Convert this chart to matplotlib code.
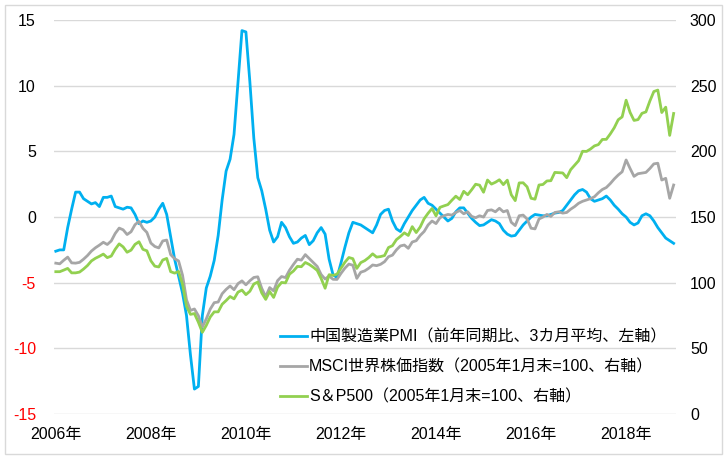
import numpy as np
import matplotlib
matplotlib.use("Agg")
import matplotlib.pyplot as plt
from matplotlib.patches import Rectangle

plt.rcParams['font.family'] = ['Liberation Sans', 'Noto Sans CJK JP']

# monthly data, Jan 2006 .. Jan 2019
pmi = [-2.6, -2.5, -2.5, -0.8, 0.6, 1.9, 1.9, 1.4, 1.2, 1.0, 1.1, 0.8,
       1.5, 1.5, 1.6, 0.8, 0.7, 0.6, 0.75, 0.7, 0.2, -0.5, -0.3, -0.4,
       -0.3, 0.0, 0.6, 1.05, 0.2, -1.5, -3.2, -4.5, -5.8, -7.5, -10.5, -13.1,
       -12.9, -7.5, -5.4, -4.5, -3.3, -1.4, 1.3, 3.5, 4.4, 6.3, 10.3, 14.2,
       14.1, 10.3, 6.0, 3.0, 2.0, 0.6, -1.0, -1.9, -1.5, -0.4, -0.8, -1.5,
       -2.0, -1.9, -1.6, -1.4, -2.1, -1.8, -1.2, -0.8, -1.3, -3.2, -4.4, -4.6,
       -3.5, -2.3, -1.2, -0.4, -0.5, -0.6, -0.8, -1.0, -1.2, -0.6, 0.2, 0.5,
       0.6, -0.3, -0.9, -1.1, -0.5, 0.0, 0.5, 0.9, 1.3, 1.5, 1.05, 0.9,
       0.6, 0.3, 0.0, -0.3, -0.1, 0.4, 0.7, 0.7, 0.3, -0.1, -0.4, -0.65,
       -0.6, -0.4, -0.2, -0.3, -0.5, -1.0, -1.3, -1.45, -1.4, -1.0, -0.6, -0.3,
       0.0, 0.2, 0.15, 0.1, 0.1, 0.2, 0.3, 0.35, 0.5, 0.9, 1.3, 1.7,
       2.0, 2.1, 1.9, 1.4, 1.2, 1.3, 1.4, 1.6, 1.3, 0.9, 0.6, 0.25,
       0.0, -0.4, -0.6, -0.45, 0.1, 0.25, 0.1, -0.3, -0.8, -1.2, -1.6, -1.8,
       -2.0]

msci = [114.9, 114.4, 117.1, 119.5, 115.1, 114.9, 115.5, 117.9, 120.7, 124.1, 126.6, 128.6,
        130.8, 129.1, 131.8, 137.5, 141.6, 140.3, 136.7, 138.8, 144.2, 146.7, 141.4, 138.3,
        130.2, 127.6, 126.5, 131.8, 132.5, 121.4, 118.3, 116.6, 105.7, 87.0, 78.9, 80.0,
        74.9, 66.2, 72.5, 79.9, 84.8, 85.3, 91.6, 94.9, 97.5, 94.7, 99.3, 101.4,
        98.4, 101.5, 104.0, 104.5, 95.7, 89.3, 96.3, 93.8, 101.6, 104.7, 103.9, 109.5,
        113.9, 117.9, 117.2, 121.4, 118.4, 115.3, 112.4, 106.2, 102.8, 105.1, 102.6, 102.5,
        107.1, 111.1, 114.2, 113.3, 103.3, 108.0, 109.0, 111.0, 113.5, 113.0, 114.0, 116.0,
        119.8, 121.0, 125.0, 128.0, 128.7, 126.2, 131.0, 132.0, 136.0, 139.0, 144.0, 147.0,
        145.0, 149.5, 151.0, 152.0, 151.5, 153.5, 155.0, 152.5, 154.0, 150.5, 149.5, 151.0,
        150.0, 155.0, 155.5, 154.0, 156.7, 154.0, 155.0, 146.0, 143.5, 151.0, 151.5, 148.5,
        141.5, 141.0, 148.5, 150.0, 152.0, 150.5, 153.5, 154.0, 153.0, 153.5, 156.0, 158.0,
        160.5, 162.0, 163.0, 164.0, 165.5, 168.5, 171.0, 172.5, 175.5, 179.0, 182.0, 184.5,
        193.5, 187.0, 181.0, 183.0, 183.5, 184.0, 187.0, 190.5, 191.0, 178.2, 179.5, 164.3,
        174.4]

sp500 = [108.4, 108.4, 109.6, 110.9, 107.5, 107.5, 108.1, 110.4, 113.1, 116.6, 118.6, 120.1,
         121.8, 119.1, 120.3, 125.5, 129.6, 127.3, 123.2, 124.8, 129.2, 131.2, 125.4, 124.3,
         116.7, 112.6, 112.0, 117.3, 118.5, 108.4, 107.3, 108.6, 98.7, 82.0, 75.9, 76.5,
         69.9, 62.2, 67.5, 73.9, 77.8, 77.8, 83.6, 86.4, 89.5, 87.7, 92.8, 94.4,
         90.9, 93.5, 99.0, 100.5, 92.2, 87.3, 93.3, 88.8, 96.6, 100.2, 99.9, 106.5,
         108.9, 112.4, 112.2, 115.4, 113.9, 111.8, 109.4, 103.2, 95.8, 106.1, 105.6, 106.5,
         111.1, 115.6, 119.2, 118.3, 110.9, 115.3, 116.8, 119.1, 122.0, 119.5, 119.9, 120.7,
         126.8, 128.2, 132.8, 135.2, 138.0, 136.0, 142.7, 138.2, 142.4, 148.7, 152.9, 156.5,
         150.9, 157.4, 158.5, 159.5, 162.8, 165.9, 163.4, 169.6, 167.0, 170.8, 175.0, 174.3,
         168.9, 178.2, 175.1, 176.5, 178.4, 174.7, 178.1, 167.0, 162.5, 176.0, 176.1, 173.0,
         164.3, 163.6, 174.4, 174.8, 177.5, 177.7, 184.0, 183.8, 183.6, 180.0, 186.1, 189.5,
         192.9, 200.1, 200.0, 201.8, 204.2, 205.2, 209.1, 209.2, 213.3, 218.0, 224.1, 226.3,
         239.0, 229.7, 223.6, 224.2, 229.0, 230.1, 238.4, 245.6, 246.7, 229.6, 233.7, 212.2,
         228.9]

year_labels = ['2006年', '2008年', '2010年', '2012年', '2014年', '2016年', '2018年']
left_ticks = [-15, -10, -5, 0, 5, 10, 15]
right_ticks = [0, 50, 100, 150, 200, 250, 300]

names = ['中国製造業PMI（前年同期比、3カ月平均、左軸）',
         'MSCI世界株価指数（2005年1月末=100、右軸）',
         'S＆P500（2005年1月末=100、右軸）']

x = np.arange(len(pmi))

fig = plt.figure(figsize=(7.28, 4.59), dpi=100)
ax = fig.add_axes([0.0742, 0.098, 0.8544, 0.8582])
ax2 = ax.twinx()

l1, = ax.plot(x, pmi, color='#00B0F0', lw=2.0)
l2, = ax2.plot(x, msci, color='#A6A6A6', lw=2.0)
l3, = ax2.plot(x, sp500, color='#92D050', lw=2.0)

ax.set_xlim(-0.45, 156.6)
ax.set_ylim(-15, 15)
ax2.set_ylim(0, 300)
ax.set_yticks(left_ticks)
ax.set_yticklabels([str(v) for v in left_ticks])
for t, v in zip(ax.get_yticklabels(), left_ticks):
    if v < 0:
        t.set_color('red')
ax2.set_yticks(right_ticks)
ax.set_xticks(np.arange(0, 145, 24))
ax.set_xticklabels(year_labels)

ax.grid(axis='y', color='#D9D9D9', lw=1)
ax.set_axisbelow(True)
for a in (ax, ax2):
    for s in a.spines.values():
        s.set_visible(False)
ax.tick_params(axis='y', length=0, labelsize=11.5, pad=13)
ax.tick_params(axis='x', length=0, labelsize=11.5, pad=9)
ax2.tick_params(axis='y', length=0, labelsize=11.5, pad=10)

fig.legend([l1, l2, l3], names, loc='upper left',
           bbox_to_anchor=(0.385, 1 - 329 / 459), frameon=False,
           fontsize=11.5, handlelength=1.65, handletextpad=0.15,
           labelspacing=0.95, borderpad=0, borderaxespad=0)

fig.patches.append(Rectangle((5 / 728, 5 / 459), 717 / 728, 449 / 459,
                             transform=fig.transFigure, fill=False,
                             edgecolor='#D9D9D9', lw=1))

fig.savefig('out.png', dpi=100)
